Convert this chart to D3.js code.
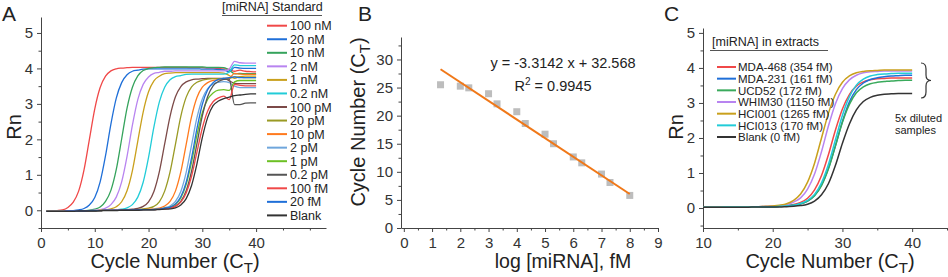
<!DOCTYPE html>
<html>
<head>
	<meta charset="utf-8">
	<title>miRNA qPCR</title>
	<script type="text/javascript" src="https://cdn.jsdelivr.net/npm/d3@7"></script>
	<style>
		body {
			margin: 0;
			background: #fff;
			font-family: "Liberation Sans", Arial, Helvetica, sans-serif;
		}
		svg text { fill: #222; }
		.tick text { fill: #333; }
	</style>
</head>
<body>
	<div id="chart"></div>
	<script>

		// ---- panel A : standards ----
		const cyclesA = [1,2,3,4,5,6,7,8,9,10,11,12,13,14,15,16,17,18,19,20,21,22,23,24,25,26,27,28,29,30,31,32,33,34,35,36,37,38,39,40];
		const standardLabels = ["100 nM","20 nM","10 nM","2 nM","1 nM","0.2 nM","100 pM","20 pM","10 pM","2 pM","1 pM","0.2 pM","100 fM","20 fM","Blank"];
		const standardColors = ["#f04848","#1f6fd8","#35a35c","#b884f0","#c9a01c","#22ccd8","#7c4a48","#9a9a24","#ff7a1e","#6fa6dc","#6cc024","#555555","#f04848","#1f6fd8","#333333"];
		const standardRn = [
			[-0.03,-0.02,-0.01,0.01,0.08,0.23,0.54,1.14,2.00,2.86,3.46,3.78,3.93,3.99,4.01,4.02,4.03,4.03,4.03,4.03,4.03,4.03,4.03,4.03,4.03,4.03,4.03,4.02,4.02,4.02,4.01,4.01,4.00,3.99,3.97,3.92,3.95,3.92,3.91,3.90],
			[-0.03,-0.03,-0.03,-0.03,-0.02,-0.01,0.01,0.05,0.15,0.36,0.80,1.54,2.43,3.16,3.60,3.82,3.92,3.95,3.98,3.99,3.99,3.99,3.99,3.99,3.99,3.99,3.99,3.99,3.99,3.98,3.98,3.98,3.97,3.96,3.90,4.03,4.01,4.00,4.00,4.00],
			[-0.03,-0.03,-0.03,-0.03,-0.02,-0.02,-0.02,-0.01,0.00,0.03,0.09,0.25,0.56,1.15,2.01,2.88,3.47,3.79,3.94,4.00,4.02,4.03,4.04,4.04,4.04,4.04,4.04,4.04,4.04,4.04,4.03,4.03,4.03,4.02,3.95,3.85,3.86,3.85,3.85,3.85],
			[-0.03,-0.03,-0.03,-0.03,-0.02,-0.02,-0.02,-0.02,-0.01,0.00,0.02,0.06,0.16,0.37,0.80,1.52,2.40,3.12,3.55,3.76,3.86,3.89,3.92,3.92,3.93,3.93,3.93,3.93,3.93,3.93,3.93,3.93,3.93,3.93,3.98,4.20,4.16,4.15,4.15,4.15],
			[-0.03,-0.03,-0.03,-0.03,-0.02,-0.02,-0.02,-0.02,-0.01,-0.01,0.00,0.01,0.04,0.10,0.24,0.55,1.12,1.95,2.77,3.34,3.65,3.78,3.85,3.87,3.88,3.88,3.88,3.88,3.88,3.88,3.88,3.88,3.88,3.87,3.80,3.72,3.77,3.78,3.78,3.78],
			[-0.03,-0.03,-0.03,-0.03,-0.02,-0.02,-0.02,-0.02,-0.01,-0.01,-0.01,0.00,0.00,0.01,0.03,0.07,0.16,0.37,0.79,1.49,2.35,3.05,3.47,3.68,3.77,3.80,3.83,3.84,3.84,3.84,3.84,3.84,3.84,3.84,3.90,4.10,4.08,4.08,4.08,4.08],
			[-0.03,-0.03,-0.03,-0.03,-0.02,-0.02,-0.02,-0.02,-0.01,-0.01,-0.01,0.00,0.00,0.00,0.00,0.02,0.03,0.05,0.11,0.24,0.53,1.08,1.87,2.65,3.20,3.49,3.62,3.68,3.70,3.71,3.72,3.72,3.72,3.72,3.65,3.58,3.57,3.57,3.57,3.57],
			[-0.03,-0.03,-0.03,-0.03,-0.02,-0.02,-0.02,-0.02,-0.01,-0.01,-0.01,0.00,0.00,0.00,0.00,0.01,0.01,0.02,0.04,0.06,0.11,0.24,0.54,1.08,1.86,2.65,3.19,3.48,3.61,3.67,3.70,3.71,3.71,3.72,3.72,3.76,3.75,3.74,3.74,3.74],
			[-0.03,-0.03,-0.03,-0.03,-0.02,-0.02,-0.02,-0.02,-0.01,-0.01,-0.01,0.00,0.00,0.00,0.00,0.01,0.01,0.01,0.02,0.03,0.04,0.06,0.12,0.25,0.54,1.08,1.86,2.64,3.18,3.47,3.60,3.66,3.68,3.69,3.72,3.86,3.84,3.83,3.83,3.83],
			[-0.03,-0.03,-0.03,-0.03,-0.02,-0.02,-0.02,-0.02,-0.01,-0.01,-0.01,0.00,0.00,0.00,0.00,0.01,0.01,0.01,0.02,0.02,0.03,0.04,0.07,0.12,0.25,0.53,1.07,1.84,2.61,3.14,3.43,3.56,3.61,3.63,3.60,3.50,3.46,3.46,3.46,3.46],
			[-0.03,-0.03,-0.03,-0.03,-0.02,-0.02,-0.02,-0.02,-0.01,-0.01,-0.01,0.00,0.00,0.00,0.00,0.01,0.01,0.01,0.02,0.02,0.02,0.03,0.05,0.09,0.17,0.35,0.73,1.36,2.12,2.75,3.13,3.31,3.39,3.40,3.38,3.62,3.66,3.66,3.66,3.66],
			[-0.03,-0.03,-0.03,-0.03,-0.02,-0.02,-0.02,-0.02,-0.01,-0.01,-0.01,0.00,0.00,0.00,0.00,0.01,0.01,0.01,0.02,0.02,0.02,0.03,0.05,0.07,0.12,0.25,0.55,1.10,1.88,2.66,3.21,3.51,3.63,3.69,3.70,2.98,2.98,3.02,3.03,3.03],
			[-0.03,-0.03,-0.03,-0.03,-0.02,-0.02,-0.02,-0.02,-0.01,-0.01,-0.01,0.00,0.00,0.00,0.00,0.01,0.01,0.01,0.02,0.02,0.02,0.03,0.04,0.06,0.11,0.23,0.49,0.96,1.64,2.32,2.80,3.06,3.17,3.22,3.12,3.55,3.52,3.51,3.51,3.51],
			[-0.03,-0.03,-0.03,-0.03,-0.02,-0.02,-0.02,-0.02,-0.01,-0.01,-0.01,0.00,0.00,0.00,0.00,0.01,0.01,0.01,0.02,0.02,0.02,0.03,0.06,0.09,0.18,0.38,0.79,1.48,2.30,2.99,3.40,3.60,3.69,3.72,3.74,3.76,3.74,3.74,3.74,3.74],
			[-0.03,-0.03,-0.03,-0.03,-0.03,-0.03,-0.02,-0.02,-0.02,-0.02,-0.01,-0.01,-0.01,-0.01,0.00,0.00,0.00,0.00,0.01,0.01,0.01,0.02,0.03,0.04,0.07,0.15,0.33,0.70,1.31,2.05,2.62,2.95,3.08,3.15,3.19,3.23,3.25,3.27,3.28,3.28]
		];

		// ---- panel B : standard curve ----
		const logConc  = [8, 7.3, 7, 6.3, 6, 5.3, 5, 4.3, 4, 3.3, 3, 2.3, 2, 1.3];
		const ctValues = [5.8, 8.1, 9.6, 11.6, 12.65, 15.0, 16.7, 18.6, 20.7, 22.1, 23.9, 24.95, 25.25, 25.5];
		const fitSlope = -3.3142;
		const fitIntercept = 32.568;
		const fitR2 = 0.9945;

		// ---- panel C : extracts ----
		const cyclesC = [10,11,12,13,14,15,16,17,18,19,20,21,22,23,24,25,26,27,28,29,30,31,32,33,34,35,36,37,38,39,40];
		const extractLabels = ["MDA-468 (354 fM)","MDA-231 (161 fM)","UCD52 (172 fM)","WHIM30 (1150 fM)","HCI001 (1265 fM)","HCI013 (170 fM)","Blank (0 fM)"];
		const extractColors = ["#f04848","#1f6fd8","#3aaa5c","#b884f0","#c9a01c","#22ccd8","#333333"];
		const extractRn = [
			[0.02,0.02,0.02,0.03,0.03,0.03,0.03,0.03,0.04,0.04,0.05,0.05,0.07,0.10,0.16,0.28,0.52,0.93,1.53,2.23,2.83,3.24,3.48,3.60,3.66,3.69,3.70,3.71,3.71,3.71,3.71],
			[0.02,0.02,0.02,0.03,0.03,0.03,0.03,0.03,0.04,0.04,0.04,0.05,0.06,0.08,0.12,0.20,0.36,0.66,1.14,1.78,2.47,3.03,3.38,3.57,3.67,3.72,3.75,3.77,3.78,3.79,3.79],
			[0.02,0.02,0.02,0.03,0.03,0.03,0.03,0.03,0.04,0.04,0.04,0.05,0.06,0.08,0.12,0.20,0.35,0.64,1.12,1.78,2.45,2.96,3.29,3.46,3.55,3.59,3.61,3.63,3.64,3.65,3.65],
			[0.02,0.02,0.02,0.03,0.03,0.03,0.03,0.03,0.04,0.05,0.05,0.07,0.10,0.17,0.29,0.54,0.97,1.61,2.35,2.98,3.41,3.66,3.79,3.86,3.89,3.90,3.91,3.91,3.91,3.91,3.91],
			[0.02,0.02,0.02,0.03,0.03,0.03,0.03,0.03,0.04,0.05,0.06,0.08,0.12,0.22,0.40,0.74,1.28,2.00,2.71,3.25,3.59,3.77,3.86,3.90,3.92,3.93,3.94,3.94,3.94,3.94,3.94],
			[0.02,0.02,0.02,0.03,0.03,0.03,0.03,0.03,0.04,0.04,0.04,0.05,0.06,0.08,0.13,0.22,0.39,0.72,1.25,1.95,2.65,3.18,3.51,3.68,3.77,3.81,3.83,3.84,3.85,3.85,3.85],
			[0.02,0.02,0.02,0.02,0.02,0.02,0.02,0.03,0.03,0.03,0.03,0.03,0.04,0.05,0.07,0.11,0.20,0.38,0.70,1.22,1.85,2.40,2.80,3.04,3.16,3.22,3.25,3.26,3.27,3.27,3.27]
		];

		const width = 948;
		const height = 277;
		const axisColor = "#444";

		const svg = d3.select("#chart")
			.append("svg")
			.attr("width", width)
			.attr("height", height)
			.attr("viewBox", [0, 0, width, height]);

		// draws a pair of outward axes with major (labelled) and minor ticks
		function drawAxes(x, y, { xMajor, xMinor, yMajor, yMinor }) {
			const [x0] = x.range();
			const [y0] = y.range();
			const style = g => {
				g.selectAll("path, line").attr("stroke", axisColor);
				g.selectAll("text").style("font-size", "15px").style("font-family", "inherit");
			};
			const minor = g => {
				g.select(".domain").remove();
				g.selectAll(".tick text").remove();
			};
			svg.append("g")
				.attr("transform", `translate(0,${y0})`)
				.call(d3.axisBottom(x).tickValues(xMinor).tickSize(2.5).tickSizeOuter(0))
				.call(minor)
				.call(style);
			svg.append("g")
				.attr("transform", `translate(0,${y0})`)
				.call(d3.axisBottom(x).tickValues(xMajor).tickSize(4).tickPadding(5).tickSizeOuter(0).tickFormat(d3.format("d")))
				.call(style);
			svg.append("g")
				.attr("transform", `translate(${x0},0)`)
				.call(d3.axisLeft(y).tickValues(yMinor).tickSize(2.5).tickSizeOuter(0))
				.call(minor)
				.call(style);
			svg.append("g")
				.attr("transform", `translate(${x0},0)`)
				.call(d3.axisLeft(y).tickValues(yMajor).tickSize(4).tickPadding(4).tickSizeOuter(0).tickFormat(d3.format("d")))
				.call(style);
		}

		function panelLetter(t, x) {
			svg.append("text").attr("x", x).attr("y", 21)
				.style("font-size", "21px").text(t);
		}

		function xTitleCT(cx, y) {
			const t = svg.append("text").attr("x", cx).attr("y", y)
				.attr("text-anchor", "middle").style("font-size", "20px");
			t.append("tspan").text("Cycle Number (C");
			t.append("tspan").attr("dy", 5).style("font-size", "15px").text("T");
			t.append("tspan").attr("dy", -5).text(")");
		}

		function yTitle(text, cx, cy) {
			svg.append("text")
				.attr("transform", `translate(${cx},${cy}) rotate(-90)`)
				.attr("text-anchor", "middle").style("font-size", "20px")
				.text(text);
		}

		// ================= Panel A =================
		{
			const x = d3.scaleLinear([0, 53], [41, 326]);
			const y = d3.scaleLinear([-0.5, 5.45], [228, 17]);
			drawAxes(x, y, {
				xMajor: [0, 10, 20, 30, 40], xMinor: [5, 15, 25, 35, 45, 50],
				yMajor: [0, 1, 2, 3, 4, 5], yMinor: [-0.5, 0.5, 1.5, 2.5, 3.5, 4.5]
			});
			const line = d3.line().curve(d3.curveMonotoneX)
				.x((d, i) => x(cyclesA[i])).y(d => y(d));
			svg.append("g").attr("fill", "none").attr("stroke-width", 1.3)
				.selectAll("path").data(standardRn).join("path")
				.attr("stroke", (d, i) => standardColors[i])
				.attr("d", line);

			// legend
			svg.append("text").attr("x", 222).attr("y", 11).style("font-size", "12.5px").text("[miRNA] Standard");
			svg.append("line").attr("x1", 222).attr("x2", 322).attr("y1", 15.5).attr("y2", 15.5)
				.attr("stroke", "#555").attr("stroke-width", 1);
			const lg = svg.append("g").selectAll("g").data(standardLabels).join("g")
				.attr("transform", (d, i) => `translate(0,${25.7 + i * 13.55})`);
			lg.append("line").attr("x1", 267).attr("x2", 287)
				.attr("stroke", (d, i) => standardColors[i]).attr("stroke-width", 2);
			lg.append("text").attr("x", 290).attr("y", 4.5).style("font-size", "12.5px").text(d => d);

			yTitle("Rn", 21, 127);
			xTitleCT(175, 268);
			panelLetter("A", 2);
		}

		// ================= Panel B =================
		{
			const x = d3.scaleLinear([-0.1, 9], [401, 658]);
			const y = d3.scaleLinear([0, 34], [228, 37]);
			drawAxes(x, y, {
				xMajor: d3.range(0, 10), xMinor: d3.range(0.5, 9, 1),
				yMajor: [0, 5, 10, 15, 20, 25, 30], yMinor: [2.5, 7.5, 12.5, 17.5, 22.5, 27.5, 32.5]
			});
			svg.append("g").attr("fill", "#bdbdbd")
				.selectAll("rect").data(logConc).join("rect")
				.attr("x", d => x(d) - 3.5).attr("y", (d, i) => y(ctValues[i]) - 3.5)
				.attr("width", 7).attr("height", 7);
			const ext = d3.extent(logConc);
			svg.append("line")
				.attr("x1", x(ext[0])).attr("y1", y(fitSlope * ext[0] + fitIntercept))
				.attr("x2", x(ext[1])).attr("y2", y(fitSlope * ext[1] + fitIntercept))
				.attr("stroke", "#f07818").attr("stroke-width", 2);

			svg.append("text").attr("x", 563).attr("y", 68).attr("text-anchor", "middle")
				.style("font-size", "14.5px")
				.text(`y = ${fitSlope} x + ${fitIntercept}`);
			const r = svg.append("text").attr("x", 553).attr("y", 91).attr("text-anchor", "middle")
				.style("font-size", "14.5px");
			r.append("tspan").text("R");
			r.append("tspan").attr("dy", -6).style("font-size", "10px").text("2");
			r.append("tspan").attr("dy", 6).text(` = ${fitR2}`);

			const yl = svg.append("text")
				.attr("transform", "translate(365,122) rotate(-90)")
				.attr("text-anchor", "middle").style("font-size", "20px");
			yl.append("tspan").text("Cycle Number (C");
			yl.append("tspan").attr("dy", 5).style("font-size", "15px").text("T");
			yl.append("tspan").attr("dy", -5).text(")");

			svg.append("text").attr("x", 563).attr("y", 268).attr("text-anchor", "middle")
				.style("font-size", "19.5px").text("log [miRNA], fM");
			panelLetter("B", 358);
		}

		// ================= Panel C =================
		{
			const x = d3.scaleLinear([10, 45], [703, 947]);
			const y = d3.scaleLinear([-0.57, 5.14], [228, 28]);
			drawAxes(x, y, {
				xMajor: [10, 20, 30, 40], xMinor: [15, 25, 35, 45],
				yMajor: [0, 1, 2, 3, 4, 5], yMinor: [-0.5, 0.5, 1.5, 2.5, 3.5, 4.5]
			});
			const line = d3.line().curve(d3.curveMonotoneX)
				.x((d, i) => x(cyclesC[i])).y(d => y(d));
			svg.append("g").attr("fill", "none").attr("stroke-width", 1.5)
				.selectAll("path").data(extractRn).join("path")
				.attr("stroke", (d, i) => extractColors[i])
				.attr("d", line);

			svg.append("text").attr("x", 712).attr("y", 46).style("font-size", "12.5px").text("[miRNA] in extracts");
			svg.append("line").attr("x1", 710).attr("x2", 828).attr("y1", 50.5).attr("y2", 50.5)
				.attr("stroke", "#555").attr("stroke-width", 1);
			const lg = svg.append("g").selectAll("g").data(extractLabels).join("g")
				.attr("transform", (d, i) => `translate(0,${67 + i * 11.67})`);
			lg.append("line").attr("x1", 717).attr("x2", 736)
				.attr("stroke", (d, i) => extractColors[i]).attr("stroke-width", 2);
			lg.append("text").attr("x", 738).attr("y", 4.2).style("font-size", "11.5px").text(d => d);

			// brace grouping the diluted samples
			svg.append("path")
				.attr("d", "M921,63 Q926,63 926,69 L926,75 Q926,80.5 931,80.5 Q926,80.5 926,86 L926,92 Q926,98 921,98")
				.attr("fill", "none").attr("stroke", "#333").attr("stroke-width", 1.2);
			svg.append("text").attr("x", 895).attr("y", 122).style("font-size", "11px").text("5x diluted");
			svg.append("text").attr("x", 895).attr("y", 134).style("font-size", "11px").text("samples");

			yTitle("Rn", 683, 127);
			xTitleCT(830, 268);
			panelLetter("C", 664);
		}

	</script>
</body>
</html>
